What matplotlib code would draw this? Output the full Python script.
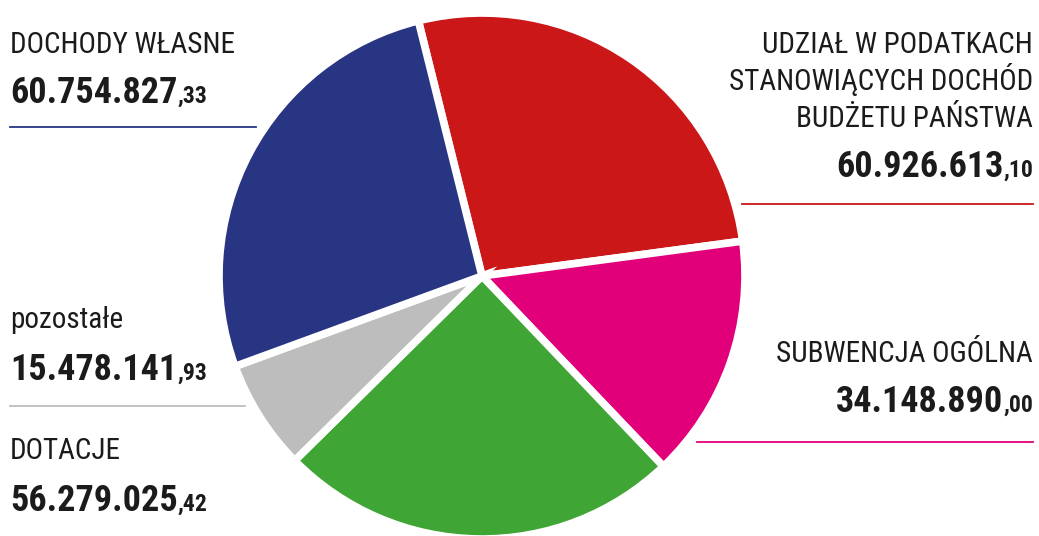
import matplotlib
matplotlib.use("Agg")
import matplotlib.pyplot as plt

# dane
labels = ["UDZIAŁ W PODATKACH\nSTANOWIĄCYCH DOCHÓD\nBUDŻETU PAŃSTWA",
          "SUBWENCJA OGÓLNA", "DOTACJE", "pozostałe", "DOCHODY WŁASNE"]
values = [60926613.10, 34148890.00, 56279025.42, 15478141.93, 60754827.33]
colors = ["#cc1719", "#e2007a", "#3fa535", "#bdbdbd", "#283583"]

W, H = 1039, 536
FONT = ["Roboto Condensed", "Roboto", "DejaVu Sans"]
INK = "#1b1b1b"

fig = plt.figure(figsize=(W / 100, H / 100), dpi=100)
fig.patch.set_facecolor("white")


def fx(px):
    return px / W


def fy(py):
    return 1 - py / H


# kolo
cx, cy, r = 482, 276, 263
ax = fig.add_axes([fx(cx - r), fy(cy + r), 2 * r / W, 2 * r / H])
ax.pie(values, colors=colors, startangle=104, counterclock=False,
       wedgeprops=dict(edgecolor="white", linewidth=5.5))
ax.set_xlim(-1, 1)
ax.set_ylim(-1, 1)
ax.set_aspect("equal")
ax.axis("off")


def split(v):
    whole = int(v)
    cents = int(round((v - whole) * 100))
    return f"{whole:,}".replace(",", "."), f",{cents:02d}"


renderer = fig.canvas.get_renderer()
txt = dict(family=FONT, fontstretch="condensed", color=INK, va="baseline")


def amount(v, x, y, ha):
    main, dec = split(v)
    if ha == "left":
        t = fig.text(fx(x), fy(y), main, fontsize=26, fontweight="bold",
                     ha="left", **txt)
        bb = t.get_window_extent(renderer)
        fig.text(bb.x1 / W, fy(y), dec, fontsize=17, fontweight="bold",
                 ha="left", **txt)
    else:
        t = fig.text(fx(x), fy(y), dec, fontsize=17, fontweight="bold",
                     ha="right", **txt)
        bb = t.get_window_extent(renderer)
        fig.text(bb.x0 / W, fy(y), main, fontsize=26, fontweight="bold",
                 ha="right", **txt)


def label(s, x, y, ha, step=37):
    # kazda linia osobno, zeby trzymac odstepy
    for i, line in enumerate(s.split("\n")):
        fig.text(fx(x), fy(y + i * step), line, fontsize=21, ha=ha, **txt)


def rule(x0, x1, y, c):
    fig.add_artist(plt.Line2D([fx(x0), fx(x1)], [fy(y), fy(y)],
                              color=c, linewidth=1.3))


# prawa strona
label(labels[0], 1033, 53, "right")
amount(values[0], 1033, 177, "right")
rule(742, 1033, 204, colors[0])

label(labels[1], 1033, 362, "right")
amount(values[1], 1033, 412, "right")
rule(697, 1033, 442, colors[1])

# lewa strona
label(labels[4], 10, 53, "left")
amount(values[4], 10, 103, "left")
rule(10, 256, 127, colors[4])

label(labels[3], 10, 328, "left")
amount(values[3], 10, 380, "left")
rule(10, 245, 406, colors[3])

label(labels[2], 10, 459, "left")
amount(values[2], 10, 511, "left")

fig.savefig("out.png", dpi=100, facecolor="white")
